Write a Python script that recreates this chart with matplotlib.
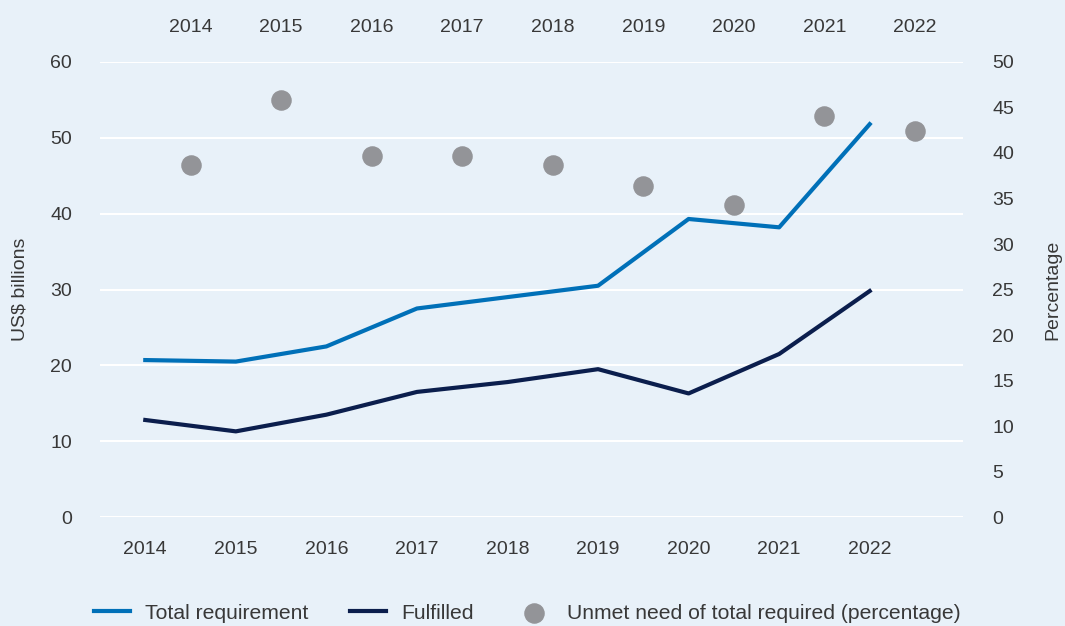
import matplotlib.pyplot as plt

# --- data ---
years = [2014, 2015, 2016, 2017, 2018, 2019, 2020, 2021, 2022]
total_requirement = [20.7, 20.5, 22.5, 27.5, 29.0, 30.5, 39.3, 38.2, 51.8]
fulfilled = [12.8, 11.3, 13.5, 16.5, 17.8, 19.5, 16.3, 21.5, 29.8]
unmet_pct = [38.7, 45.8, 39.7, 39.7, 38.7, 36.4, 34.3, 44.1, 42.4]

bg = '#E8F1F9'
text_col = '#383838'
blue = '#0070B8'
navy = '#0B1E4D'
grey = '#939498'
fs = 14

plt.rcParams['font.family'] = ['Liberation Sans', 'DejaVu Sans']
plt.rcParams['text.color'] = text_col

fig = plt.figure(figsize=(10.65, 6.26), dpi=100, facecolor=bg)
ax = fig.add_axes([0.0939, 0.174, 0.8103, 0.727])
ax.set_facecolor(bg)

# lines on left axis
ax.plot(years, total_requirement, color=blue, lw=3, label='Total requirement', zorder=3)
ax.plot(years, fulfilled, color=navy, lw=3, label='Fulfilled', zorder=3)
ax.set_ylim(0, 60)
ax.set_yticks(range(0, 61, 10))
ax.set_xlim(2013.5, 2023.03)
ax.set_xticks(years)
ax.grid(axis='y', color='white', lw=1.5)
ax.set_axisbelow(True)
ax.set_ylabel('US$ billions', fontsize=fs, color=text_col, labelpad=16)

# percentage dots on right axis, shifted half a year
ax2 = ax.twinx()
ax2.scatter([y + 0.5 for y in years], unmet_pct, s=190, color=grey, zorder=4,
            label='Unmet need of total required (percentage)')
ax2.set_ylim(0, 50)
ax2.set_yticks(range(0, 51, 5))
ax2.set_ylabel('Percentage', fontsize=fs, color=text_col, labelpad=22)

# top year labels for the dots
top = ax.secondary_xaxis('top', functions=(lambda x: x - 0.5, lambda x: x + 0.5))
top.set_xticks(years)
top.tick_params(length=0, pad=19, labelsize=fs, labelcolor=text_col)

for a in (ax, ax2, top):
    for s in a.spines.values():
        s.set_visible(False)
ax.tick_params(length=0, labelsize=fs, labelcolor=text_col)
ax.tick_params(axis='y', pad=20)
ax.tick_params(axis='x', pad=17)
ax2.tick_params(length=0, labelsize=fs, labelcolor=text_col, pad=21)

h1, l1 = ax.get_legend_handles_labels()
h2, l2 = ax2.get_legend_handles_labels()
fig.legend(h1 + h2, l1 + l2, loc='lower center', bbox_to_anchor=(0.495, -0.025),
           ncol=3, frameon=False, fontsize=15.2, handlelength=1.7, handletextpad=0.7,
           columnspacing=2.0)

fig.savefig('out.png', dpi=100, facecolor=bg)
